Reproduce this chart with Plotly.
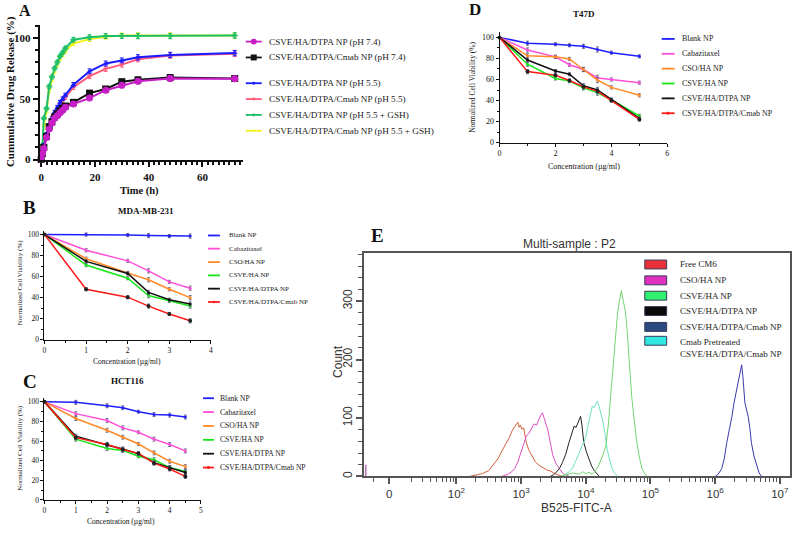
import plotly.graph_objects as go

SERIF = "Liberation Serif"
SANS = "Liberation Sans"
W, H = 800, 533


def fx(p):
    return p / W


def fy(p):
    return 1 - p / H


# ---------------- Panel A : cumulative drug release ----------------
time_h = [0, 0.5, 1, 2, 3, 4, 5, 6, 7, 8, 9, 12, 18, 24, 30, 36, 48, 72]
rel_dtpa_74 = [0, 5, 9, 18, 25, 30, 34, 36, 38.5, 40.5, 43, 45.6, 50.5, 57, 61, 64.4, 66.6, 66.5]
rel_cmab_74 = [0, 5, 10, 19, 27, 31, 35, 37.5, 40, 42, 44, 47, 54.6, 58, 64, 65.5, 67.4, 66.6]
rel_dtpa_55 = [0, 6, 12, 21, 28, 34, 39, 43, 47, 50, 53, 61.5, 72.5, 79, 81.5, 84, 86, 87.5]
rel_cmab_55 = [0, 5, 11, 20, 27, 33, 37, 41, 45, 48, 51, 59.5, 68.5, 74.5, 78, 82.5, 85.5, 87]
rel_dtpa_gsh = [0, 12, 34, 42, 60, 68, 75, 80, 85, 88, 91.5, 98.5, 100.5, 101.5, 101.5, 101.5, 101.5, 102]
rel_cmab_gsh = [0, 10, 28, 40, 57, 66, 73, 78, 83, 86, 89, 95.5, 99, 101, 102, 102, 102, 102]
err_rel = [0, 0.8, 1, 1.2, 1.5, 1.5, 1.5, 1.5, 1.5, 1.5, 1.5, 1.8, 2, 2, 2, 2.2, 2.2, 2.2]
A_names = ["CSVE/HA/DTPA NP (pH 7.4)", "CSVE/HA/DTPA/Cmab NP (pH 7.4)",
           "CSVE/HA/DTPA NP (pH 5.5)", "CSVE/HA/DTPA/Cmab NP (pH 5.5)",
           "CSVE/HA/DTPA NP (pH 5.5 + GSH)", "CSVE/HA/DTPA/Cmab NP (pH 5.5 + GSH)"]
A_values = [rel_dtpa_74, rel_cmab_74, rel_dtpa_55, rel_cmab_55, rel_dtpa_gsh, rel_cmab_gsh]
A_colors = ["#c81ec8", "#111111", "#1a1aff", "#ff5a7a", "#1fbf6a", "#f2f21a"]
A_symbols = ["circle", "square", "triangle-up", "triangle-down", "cross", "triangle-down"]
A_sizes = [7, 7, 5, 5, 5, 4]
A_order = [5, 4, 3, 2, 1, 0]

# ---------------- Panels B, C, D : cell viability ----------------
via_names = ["Blank NP", "Cabazitaxel", "CSO/HA NP", "CSVE/HA NP", "CSVE/HA/DTPA NP", "CSVE/HA/DTPA/Cmab NP"]
via_colors = ["#1f1fff", "#ff4fd8", "#ff8a2a", "#19e619", "#111111", "#ff1a1a"]

conc_B = [0, 1, 2, 2.5, 3, 3.5]
B_blank = [100, 100, 99.5, 99, 98.5, 98.5]
B_cbz = [100, 85, 75, 65.5, 55, 49]
B_cso = [100, 77, 63.5, 57, 48, 40]
B_csve = [100, 71, 58.5, 42, 37, 32]
B_dtpa = [100, 74.5, 63, 45, 38, 34]
B_cmab = [100, 48, 40.5, 32, 24.5, 18]
err_B = [0, 1.5, 1.5, 2, 1.5, 2]

conc_C = [0, 1, 2, 2.5, 3, 3.5, 4, 4.5]
C_blank = [100, 99.5, 96, 94, 90, 87, 86.5, 84.5]
C_cbz = [100, 88, 81, 73.5, 69, 62, 56.5, 50]
C_cso = [100, 83, 71, 64, 57, 48, 39.5, 34]
C_csve = [100, 62, 52.5, 50.5, 44.5, 41, 33, 29]
C_dtpa = [100, 65, 56, 52, 47, 38, 33, 28]
C_cmab = [100, 63.5, 56.5, 51.5, 47.5, 37.5, 31.5, 24]
err_C = [0, 2, 2, 2, 1.5, 2, 2, 2]

conc_D = [0, 1, 2, 2.5, 3, 3.5, 4, 5]
D_blank = [100, 94.5, 93.5, 92.5, 91.5, 88.5, 85.5, 82]
D_cbz = [100, 88, 81.5, 74, 69.5, 61.5, 60, 57]
D_cso = [100, 82.5, 81.5, 79.5, 69.5, 59.5, 52.5, 45]
D_csve = [100, 74.5, 61, 58.5, 52, 47.5, 40.5, 25.5]
D_dtpa = [100, 78.5, 68, 65, 54, 50, 41, 23]
D_cmab = [100, 67.5, 64, 59, 53, 49, 40, 22]
err_D = [0, 2, 1.5, 1.5, 2, 2.5, 1.5, 1.5]

# ---------------- Panel E : flow cytometry histograms ----------------
E_names = ["Free CM6", "CSO/HA NP", "CSVE/HA NP", "CSVE/HA/DTPA NP", "CSVE/HA/DTPA/Cmab NP",
           "Cmab Pretreated<br>CSVE/HA/DTPA/Cmab NP"]
E_swatch = ["#e8303a", "#e030c0", "#30f070", "#0a0a0a", "#2a4a80", "#30e8e0"]
# log10(fluorescence) channel and counts
cm6_log = [2.2, 2.3, 2.4, 2.5, 2.56, 2.64, 2.72, 2.78, 2.82, 2.86, 2.9, 2.93, 2.95, 2.97, 2.99, 3.01, 3.04,
           3.06, 3.08, 3.12, 3.16, 3.22, 3.28, 3.34, 3.4, 3.46, 3.52, 3.59, 3.65]
cm6_cnt = [0, 2, 5, 10, 18, 30, 47, 58, 67, 78, 86, 90, 93, 84, 88, 81, 83, 70, 58, 45, 36, 25, 19, 15, 11,
           9, 5, 2, 0]
cso_log = [2.7, 2.8, 2.85, 2.9, 2.95, 3.0, 3.04, 3.08, 3.12, 3.16, 3.2, 3.24, 3.27, 3.3, 3.33, 3.36, 3.39,
           3.41, 3.45, 3.49, 3.54, 3.59, 3.64, 3.7, 3.75]
cso_cnt = [0, 4, 8, 13, 25, 41, 55, 69, 74, 82, 90, 88, 98, 104, 109, 100, 88, 81, 58, 36, 22, 13, 6, 2, 0]
csve_log = [3.6, 3.7, 3.8, 3.9, 3.95, 4.0, 4.05, 4.1, 4.15, 4.2, 4.26, 4.31, 4.35, 4.38, 4.41, 4.44, 4.47,
            4.49, 4.52, 4.55, 4.58, 4.61, 4.64, 4.66, 4.69, 4.71, 4.75, 4.79, 4.83, 4.87, 4.91, 4.95]
csve_cnt = [0, 3, 6, 4, 8, 5, 7, 4, 10, 19, 35, 52, 90, 132, 170, 205, 250, 278, 300, 318, 300, 284, 250,
            217, 175, 137, 95, 58, 32, 13, 5, 0]
dtpa_log = [3.45, 3.5, 3.55, 3.6, 3.64, 3.69, 3.74, 3.78, 3.82, 3.85, 3.87, 3.9, 3.92, 3.94, 3.97, 4.01,
            4.05, 4.09, 4.13, 4.17, 4.21]
dtpa_cnt = [0, 3, 8, 15, 24, 38, 58, 72, 86, 84, 90, 96, 103, 88, 58, 42, 30, 18, 10, 4, 0]
cmab_log = [6.0, 6.04, 6.1, 6.14, 6.18, 6.22, 6.26, 6.29, 6.31, 6.34, 6.36, 6.38, 6.4, 6.41, 6.43, 6.46,
            6.49, 6.51, 6.54, 6.56, 6.6, 6.64, 6.68, 6.72]
cmab_cnt = [0, 3, 13, 30, 58, 80, 103, 125, 137, 150, 160, 175, 185, 191, 170, 126, 112, 103, 80, 58, 35,
            18, 6, 0]
pre_log = [3.62, 3.69, 3.75, 3.79, 3.84, 3.9, 3.95, 4.0, 4.04, 4.08, 4.1, 4.13, 4.16, 4.18, 4.2, 4.23, 4.26,
           4.3, 4.33, 4.37, 4.41, 4.45, 4.49]
pre_cnt = [0, 4, 9, 13, 25, 41, 52, 67, 90, 112, 120, 118, 125, 129, 122, 110, 97, 72, 47, 28, 13, 5, 0]
edge_log = [0.6, 0.6]
edge_cnt = [0, 20]
E_hist = [(cm6_log, cm6_cnt, "#d0603a"), (cso_log, cso_cnt, "#d94fc0"), (dtpa_log, dtpa_cnt, "#222222"),
          (pre_log, pre_cnt, "#6fe0c4"), (csve_log, csve_cnt, "#72d472"), (cmab_log, cmab_cnt, "#3a3aa8"),
          (edge_log, edge_cnt, "#9a2a8a")]
E_tick_vals = [9.1, 100, 1e3, 1e4, 1e5, 1e6, 1e7]
E_tick_text = ["0", "10<sup>2</sup>", "10<sup>3</sup>", "10<sup>4</sup>", "10<sup>5</sup>",
               "10<sup>6</sup>", "10<sup>7</sup>"]

fig = go.Figure()

# Panel A traces
for i in A_order:
    fig.add_trace(go.Scatter(
        x=time_h, y=A_values[i], mode="lines+markers", name=A_names[i],
        line=dict(color=A_colors[i], width=2),
        marker=dict(symbol=A_symbols[i], size=A_sizes[i], color=A_colors[i]),
        error_y=dict(type="data", array=err_rel, color=A_colors[i], thickness=1, width=2),
        xaxis="x", yaxis="y", cliponaxis=False))

# Panels B, C, D traces
panels = [
    ("x2", "y2", conc_B, [B_blank, B_cbz, B_cso, B_csve, B_dtpa, B_cmab], err_B),
    ("x3", "y3", conc_C, [C_blank, C_cbz, C_cso, C_csve, C_dtpa, C_cmab], err_C),
    ("x4", "y4", conc_D, [D_blank, D_cbz, D_cso, D_csve, D_dtpa, D_cmab], err_D),
]
for xa, ya, conc, series, err in panels:
    for k, vals in enumerate(series):
        mcol = "#222222" if k == 5 else via_colors[k]
        fig.add_trace(go.Scatter(
            x=conc, y=vals, mode="lines+markers", name=via_names[k],
            line=dict(color=via_colors[k], width=1.5),
            marker=dict(size=3 if k != 5 else 4, color=mcol),
            error_y=dict(type="data", array=err, color="#555577", thickness=0.8, width=1.5),
            xaxis=xa, yaxis=ya, cliponaxis=False))

# Panel E traces
for logs, cnt, col in E_hist:
    fig.add_trace(go.Scatter(
        x=[10 ** v for v in logs], y=cnt, mode="lines", line=dict(color=col, width=1),
        xaxis="x5", yaxis="y5", showlegend=False))

shapes = []
annos = []


def text(x, y, s, size, bold=False, family=SERIF, anchor="center", angle=0, color="#111111"):
    annos.append(dict(x=fx(x), y=fy(y), xref="paper", yref="paper", text=s, showarrow=False,
                      xanchor=anchor, yanchor="middle", textangle=angle, align="left",
                      borderpad=0,
                      font=dict(family=family, size=size, color=color,
                                weight="bold" if bold else "normal")))


def line_legend(x0, x1, xt, ys, names, colors, fsize, msizes, msym):
    cx = (x0 + x1) / 2
    for y, n, c, r, sym in zip(ys, names, colors, msizes, msym):
        shapes.append(dict(type="line", xref="paper", yref="paper", x0=fx(x0), x1=fx(x1),
                           y0=fy(y), y1=fy(y), line=dict(color=c, width=1.8)))
        shapes.append(dict(type="rect" if sym == "square" else "circle", xref="paper", yref="paper",
                           x0=fx(cx - r), x1=fx(cx + r), y0=fy(y + r), y1=fy(y - r),
                           fillcolor=c, line=dict(color=c, width=0)))
        text(xt, y, n, fsize, anchor="left", color="#222222")


# Legend A
line_legend(245, 261, 267, [42, 58, 84, 100, 116, 132], A_names, A_colors, 9.2,
            [3, 3, 1.5, 1.5, 1.5, 1.2], ["circle", "square", "c", "c", "c", "c"])
# Legends B, C, D
line_legend(207, 219, 227, [237.7, 251, 264.6, 278, 291.4, 304.8], via_names, via_colors, 7,
            [0.8] * 5 + [1.3], ["c"] * 6)
line_legend(202, 213, 218, [402, 416, 430, 444, 458, 472], via_names, via_colors, 7.6,
            [0.8] * 5 + [1.5], ["c"] * 6)
line_legend(663, 676, 682, [39.3, 54.3, 69.3, 84.3, 99.3, 114.3], via_names, via_colors, 8,
            [0.8] * 5 + [1.5], ["c"] * 6)

# Legend E (swatches)
E_rows = [267, 283, 298.5, 314, 330, 344]
for k, (y, n, c) in enumerate(zip(E_rows, E_names, E_swatch)):
    shapes.append(dict(type="rect", xref="paper", yref="paper", x0=fx(646), x1=fx(668),
                       y0=fy(y + 4.5), y1=fy(y - 4.5), fillcolor=c, line=dict(color="#3a3a5a", width=1)))
    text(680, y + (7 if k == 5 else 0), n, 9, anchor="left", color="#222222")

# Panel letters, titles and axis titles
text(23, 11, "A", 16, bold=True)
text(28, 209, "B", 19, bold=True)
text(28, 385, "C", 19, bold=True)
text(475, 10, "D", 17, bold=True)
text(377, 238, "E", 19, bold=True)
text(145, 213, "MDA-MB-231", 9, bold=True)
text(126, 385, "HCT116", 9, bold=True)
text(585, 14, "T47D", 9, bold=True)
text(8, 92, "Cummulative Drug Release (%)", 11, bold=True, angle=-90)
text(138, 193, "Time (h)", 10.5, bold=True)
text(18, 285, "Normalized Cell Viability (%)", 7, angle=-90)
text(126, 365, "Concentration (µg/ml)", 7.5)
text(18, 452, "Normalized Cell Viability (%)", 7, angle=-90)
text(120, 526, "Concentration (µg/ml)", 7.5)
text(473, 88, "Normalized Cell Viability (%)", 7.5, angle=-90)
text(585, 168, "Concentration (µg/ml)", 8)
text(570, 246, "Multi-sample : P2", 12, family=SANS, color="#333333")
text(337, 365, "Count", 12, family=SANS, angle=-90, color="#333333")
text(577, 513, "B525-FITC-A", 12, family=SANS, color="#333333")


def gp_axis(dom, rng, dtick, mdtick, size, lw=1, tl=3, bold=False, anchor=None):
    d = dict(domain=dom, range=rng, showline=True, linecolor="#111111", linewidth=lw,
             ticks="outside", ticklen=tl, tickwidth=lw, tickcolor="#111111", dtick=dtick, tick0=0,
             showgrid=False, zeroline=False,
             minor=dict(ticks="outside", ticklen=max(2, tl - 2), dtick=mdtick, tickcolor="#111111",
                        tickwidth=max(1, lw - 0.5)),
             tickfont=dict(family=SERIF, size=size, color="#111111", weight="bold" if bold else "normal"))
    if anchor:
        d["anchor"] = anchor
    return d


E_minor = ([5.2] + [v * m for v in [10, 100, 1e3, 1e4, 1e5, 1e6] for m in range(2, 10)])
E_minor = [v for v in E_minor if v < 1.4e7]

fig.update_layout(
    width=W, height=H, margin=dict(l=0, r=0, t=0, b=0),
    paper_bgcolor="white", plot_bgcolor="white", showlegend=False,
    xaxis=gp_axis([fx(38), fx(242)], [-0.5, 75], 20, 2, 11, lw=2, tl=5, bold=True, anchor="y"),
    yaxis=gp_axis([fy(162), fy(25)], [-0.8, 110.8], 50, 10, 11, lw=2, tl=5, bold=True, anchor="x"),
    xaxis2=gp_axis([fx(42.7), fx(210)], [0, 4], 1, 0.5, 7.5, anchor="y2"),
    yaxis2=gp_axis([fy(343), fy(232.7)], [0, 103.8], 20, 10, 7.5, anchor="x2"),
    xaxis3=gp_axis([fx(42.7), fx(200)], [0, 5], 1, 0.5, 7.5, anchor="y3"),
    yaxis3=gp_axis([fy(504.7), fy(401.7)], [0, 104], 20, 10, 7.5, anchor="x3"),
    xaxis4=gp_axis([fx(500), fx(668.7)], [0, 6], 2, 1, 8, anchor="y4"),
    yaxis4=gp_axis([fy(144), fy(32)], [0, 105.4], 20, 10, 8, anchor="x4"),
    xaxis5=dict(domain=[fx(364), fx(792)], type="log", range=[0.574, 7.158], anchor="y5",
                showline=True, mirror=True, linecolor="#555555", linewidth=1.5,
                ticks="outside", ticklen=6, tickwidth=1.5, tickcolor="#555555",
                tickmode="array", tickvals=E_tick_vals, ticktext=E_tick_text,
                minor=dict(ticks="outside", ticklen=4, tickvals=E_minor, tickcolor="#555555", tickwidth=1),
                showgrid=False, zeroline=False,
                tickfont=dict(family=SANS, size=11.5, color="#333333")),
    yaxis5=dict(domain=[fy(481), fy(255)], range=[0, 383], anchor="x5",
                showline=True, mirror=True, linecolor="#555555", linewidth=1.5,
                ticks="outside", ticklen=6, tickwidth=1.5, tickcolor="#555555",
                tickvals=[0, 100, 200, 300], tickangle=-90,
                minor=dict(ticks="outside", ticklen=4, dtick=20, tick0=0, tickcolor="#555555", tickwidth=1),
                showgrid=False, zeroline=False,
                tickfont=dict(family=SANS, size=12, color="#333333")),
    shapes=shapes, annotations=annos,
)

fig.write_html("out.html", config={"displayModeBar": False},
               post_script="document.body.style.margin='0';")
